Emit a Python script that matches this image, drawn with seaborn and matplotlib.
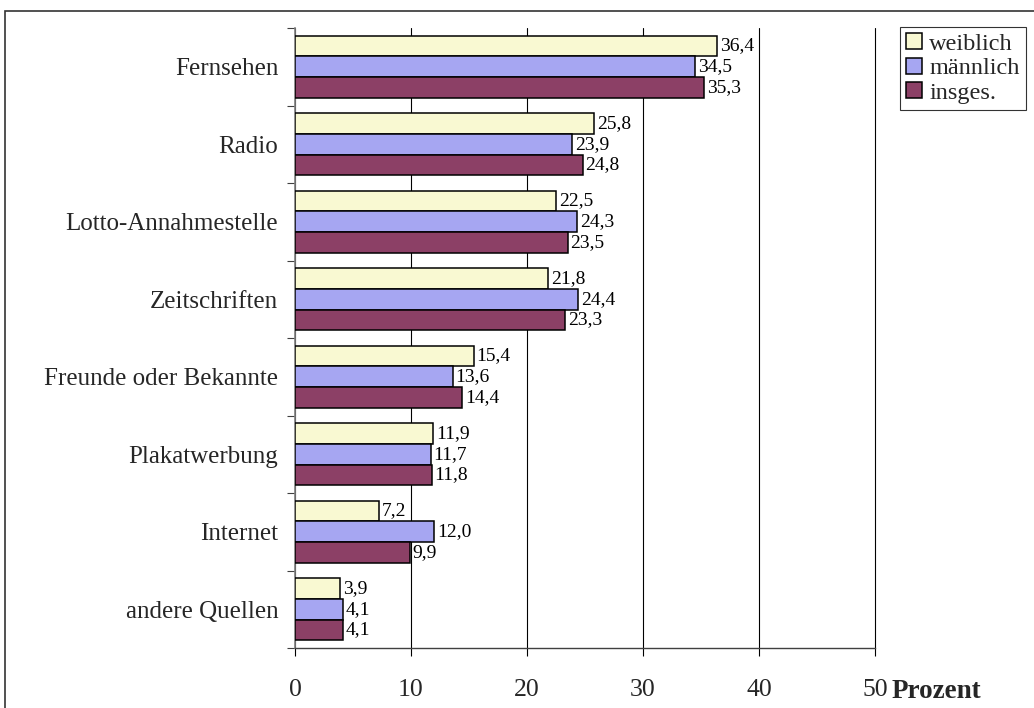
# Informationsquellen - horizontale Balken nach Geschlecht
import pandas as pd
import matplotlib.pyplot as plt
import seaborn as sns
from matplotlib.patches import Rectangle
from matplotlib.ticker import MultipleLocator

# Daten
quellen = ["Fernsehen", "Radio", "Lotto-Annahmestelle", "Zeitschriften",
           "Freunde oder Bekannte", "Plakatwerbung", "Internet", "andere Quellen"]
weiblich = [36.4, 25.8, 22.5, 21.8, 15.4, 11.9, 7.2, 3.9]
maennlich = [34.5, 23.9, 24.3, 24.4, 13.6, 11.7, 12.0, 4.1]
insges = [35.3, 24.8, 23.5, 23.3, 14.4, 11.8, 9.9, 4.1]
gruppen = ["weiblich", "männlich", "insges."]
farben = ["#FFFFCC", "#9999FF", "#993366"]

df = pd.DataFrame({
    "Quelle": quellen * 3,
    "Prozent": weiblich + maennlich + insges,
    "Gruppe": [g for g in gruppen for _ in quellen],
})

sns.set_style("white")
plt.rcParams["font.family"] = ["Liberation Serif", "DejaVu Serif"]

fig = plt.figure(figsize=(10.34, 7.08), dpi=100)
ax = fig.add_axes([295 / 1034, 1 - 648 / 708, 580 / 1034, 620 / 708])

sns.barplot(data=df, y="Quelle", x="Prozent", hue="Gruppe", order=quellen,
            hue_order=gruppen, palette=farben, orient="h", width=0.8,
            edgecolor="black", linewidth=1.1, errorbar=None, ax=ax, zorder=3)

# Werte an den Balken
for cont in ax.containers:
    werte = [b.get_width() for b in cont]
    ax.bar_label(cont, labels=[f"{v:.1f}".replace(".", ",") for v in werte],
                 padding=2, fontsize=14, color="black")

# Achsen
ax.set_xlim(0, 50)
ax.set_ylim(7.5, -0.5)
ax.set_xticks(range(0, 51, 10))
ax.xaxis.grid(True, color="black", linewidth=0.8, zorder=0)
for gl in ax.get_xgridlines():
    gl.set_clip_on(False)
ax.set_axisbelow(True)
ax.yaxis.set_minor_locator(MultipleLocator(1, offset=0.5))
ax.tick_params(axis="y", which="major", length=0, pad=12, labelsize=18)
ax.tick_params(axis="y", which="minor", length=6, width=0.8, color="#404040",
               direction="out", left=True)
ax.tick_params(axis="x", which="major", length=6, width=0.8, color="black",
               direction="out", bottom=True, pad=16, labelsize=18.5)
ax.set_xlabel("")
ax.set_ylabel("")
for s in ["top", "right"]:
    ax.spines[s].set_visible(False)
ax.spines["left"].set_color("#808080")
ax.spines["left"].set_linewidth(1.2)
ax.spines["bottom"].set_color("#404040")
ax.spines["bottom"].set_linewidth(1.0)

fig.text(892 / 1034, 1 - 698 / 708, "Prozent", fontsize=19.5,
         fontweight="bold", ha="left", va="baseline")

# Legende
leg = ax.legend(loc="upper left", bbox_to_anchor=(900 / 1034, 1 - 27 / 708),
                bbox_transform=fig.transFigure, fontsize=17.5, frameon=True,
                fancybox=False, edgecolor="black", handlelength=0.65,
                handleheight=0.65, handletextpad=0.3, labelspacing=0.12,
                borderpad=0.25, borderaxespad=0)
leg.get_frame().set_linewidth(0.8)

# Rahmen um die Grafik
fig.add_artist(Rectangle((5 / 1034, -0.1), 1.5, 1.1 - 11 / 708,
                         transform=fig.transFigure, fill=False,
                         edgecolor="#333333", linewidth=1.2))

fig.savefig("out.png", dpi=100)
